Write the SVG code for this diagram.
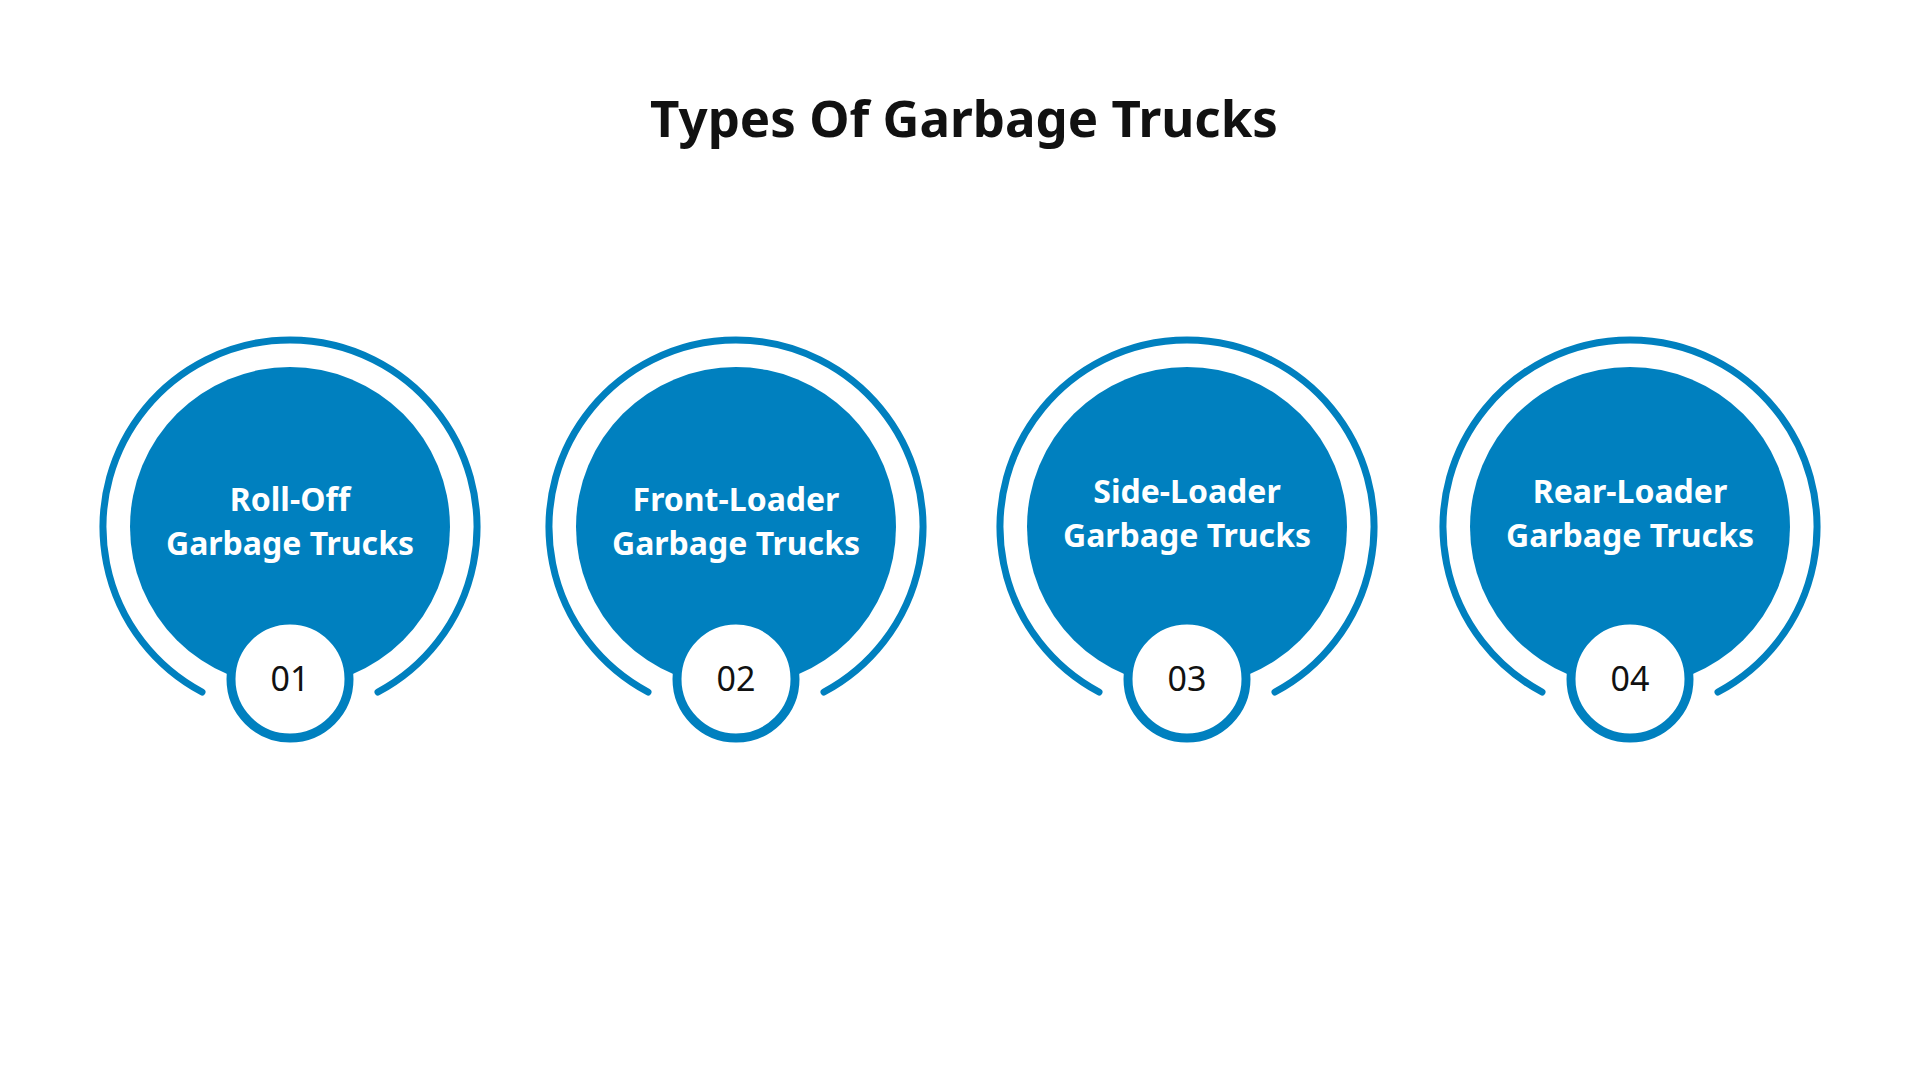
<svg xmlns="http://www.w3.org/2000/svg" width="1920" height="1080" viewBox="0 0 1920 1080">
<style>
.ring{fill:none;stroke:#0080BF;stroke-width:7;stroke-linecap:round}
.disc{fill:#0080BF}
.badge{fill:#fff;stroke:#0080BF;stroke-width:9}
.lbl{font-family:"Noto Sans","Open Sans",sans-serif;font-weight:bold;font-size:32px;fill:#fff;text-anchor:middle}
.num{font-family:"Noto Sans","Open Sans",sans-serif;font-size:34px;fill:#111;text-anchor:middle}
.title{font-family:"Noto Sans","Open Sans",sans-serif;font-weight:bold;font-size:51px;fill:#111;text-anchor:middle}
</style>
<defs>
<g id="base">
<path class="ring" d="M-88,165 A187,187 0 1 1 88,165"/>
<circle class="disc" r="160"/>
<circle class="badge" cy="152" r="59"/>
</g>
</defs>
<rect width="1920" height="1080" fill="#fff"/>
<text class="title" x="964" y="137">Types Of Garbage Trucks</text>
<g id="node1" transform="translate(290,527)">
<use href="#base"/>
<text class="lbl" y="-16">Roll-Off</text>
<text class="lbl" y="28">Garbage Trucks</text>
<text class="num" y="164">01</text>
</g>
<g id="node2" transform="translate(736,527)">
<use href="#base"/>
<text class="lbl" y="-16">Front-Loader</text>
<text class="lbl" y="28">Garbage Trucks</text>
<text class="num" y="164">02</text>
</g>
<g id="node3" transform="translate(1187,527)">
<use href="#base"/>
<text class="lbl" y="-24">Side-Loader</text>
<text class="lbl" y="20">Garbage Trucks</text>
<text class="num" y="164">03</text>
</g>
<g id="node4" transform="translate(1630,527)">
<use href="#base"/>
<text class="lbl" y="-24">Rear-Loader</text>
<text class="lbl" y="20">Garbage Trucks</text>
<text class="num" y="164">04</text>
</g>
<g id="connectors"/>
</svg>
